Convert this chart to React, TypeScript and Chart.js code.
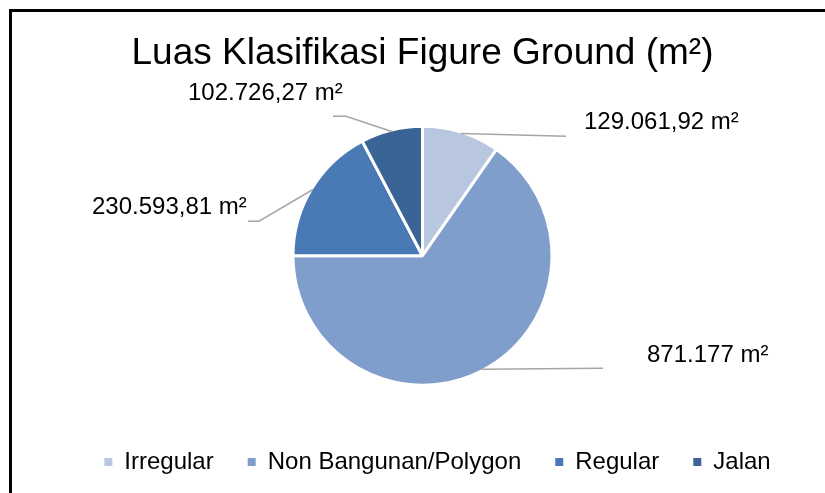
import React, { useEffect, useRef } from "react";
import { Chart, ArcElement, PieController, Legend, Title } from "chart.js";

Chart.register(ArcElement, PieController, Legend, Title);

const categories = ["Irregular", "Non Bangunan/Polygon", "Regular", "Jalan"];
const areaValues = [129061.92, 871177, 230593.81, 102726.27];
const sliceColors = ["#B9C6E0", "#7F9ECB", "#4A7AB5", "#3B6496"];
const unitText = "m²";
const chartTitle = "Luas Klasifikasi Figure Ground (m²)";

const FONT = "'Liberation Sans', Arial, sans-serif";

function formatId(v: number): string {
  const isInt = Math.abs(v - Math.round(v)) < 1e-9;
  const fixed = isInt ? String(Math.round(v)) : v.toFixed(2);
  const [intPart, dec] = fixed.split(".");
  const withSep = intPart.replace(/\B(?=(\d{3})+(?!\d))/g, ".");
  return dec ? `${withSep},${dec}` : withSep;
}

// callout geometry, relative to the pie centre
type Callout = { elbow: number[] | null; end: number[]; text: number[] };
const callouts: Callout[] = [
  { elbow: null, end: [143.5, -119.5], text: [161.5, -133] },
  { elbow: null, end: [180.5, 112.5], text: [224.5, -0.5 + 100] },
  { elbow: [-163.5, -34.5], end: [-174.5, -34.5], text: [-330.5, -48] },
  { elbow: [-76.5, -139.5], end: [-89.5, -139.5], text: [-234.5, -162] },
];

const calloutPlugin = {
  id: "callouts",
  afterDatasetsDraw(chart: any) {
    const meta = chart.getDatasetMeta(0);
    const ctx = chart.ctx as CanvasRenderingContext2D;
    const data = chart.data.datasets[0].data as number[];
    meta.data.forEach((arc: any, i: number) => {
      const p = arc.getProps(["x", "y", "startAngle", "endAngle", "outerRadius"], true);
      const mid = (p.startAngle + p.endAngle) / 2;
      const r = p.outerRadius - 1.5;
      const ex = p.x + Math.cos(mid) * r;
      const ey = p.y + Math.sin(mid) * r;
      const c = callouts[i];
      ctx.save();
      ctx.strokeStyle = "#A6A6A6";
      ctx.lineWidth = 1.5;
      ctx.beginPath();
      ctx.moveTo(ex, ey);
      if (c.elbow) ctx.lineTo(p.x + c.elbow[0], p.y + c.elbow[1]);
      ctx.lineTo(p.x + c.end[0], p.y + c.end[1]);
      ctx.stroke();
      ctx.fillStyle = "#000";
      ctx.font = `24px ${FONT}`;
      ctx.textAlign = "left";
      ctx.textBaseline = "middle";
      ctx.fillText(`${formatId(data[i])} ${unitText}`, p.x + c.text[0], p.y + c.text[1]);
      ctx.restore();
    });
  },
};

const legendShiftPlugin = {
  id: "legendShift",
  afterLayout(chart: any) {
    const lg = chart.legend;
    if (lg) {
      lg.left += 15;
      lg.right += 15;
    }
  },
};

export default function App() {
  const ref = useRef<HTMLCanvasElement | null>(null);
  useEffect(() => {
    if (!ref.current) return;
    const chart = new Chart(ref.current, {
      type: "pie",
      data: {
        labels: categories,
        datasets: [
          {
            data: areaValues,
            backgroundColor: sliceColors,
            borderColor: "#FFFFFF",
            borderWidth: 3,
            radius: 129.5,
          } as any,
        ],
      },
      options: {
        responsive: false,
        animation: false,
        layout: { padding: { top: 10, left: 20, right: 0, bottom: 9 } },
        plugins: {
          title: {
            display: true,
            text: chartTitle,
            color: "#000",
            font: { family: FONT, size: 37, weight: "normal" as any },
            padding: { top: 22, bottom: 19 },
          },
          legend: {
            display: true,
            position: "bottom",
            labels: {
              boxWidth: 8,
              boxHeight: 8,
              padding: 34,
              color: "#000",
              font: { family: FONT, size: 24 },
              generateLabels(chart: any) {
                const base = (Chart as any).overrides.pie.plugins.legend.labels.generateLabels(chart);
                return base.map((it: any) => ({ ...it, lineWidth: 0, strokeStyle: "rgba(0,0,0,0)" }));
              },
            },
          },
          tooltip: { enabled: false },
        },
      } as any,
      plugins: [calloutPlugin, legendShiftPlugin],
    });
    return () => chart.destroy();
  }, []);
  return (
    <div style={{ position: "fixed", left: 0, top: 0, width: 825, height: 493, overflow: "hidden", background: "#fff" }}>
      <div style={{ position: "absolute", left: 9, top: 9, width: 900, height: 600, border: "3px solid #000" }} />
      <canvas ref={ref} width={825} height={493} style={{ position: "absolute", left: 0, top: 0 }} />
    </div>
  );
}
